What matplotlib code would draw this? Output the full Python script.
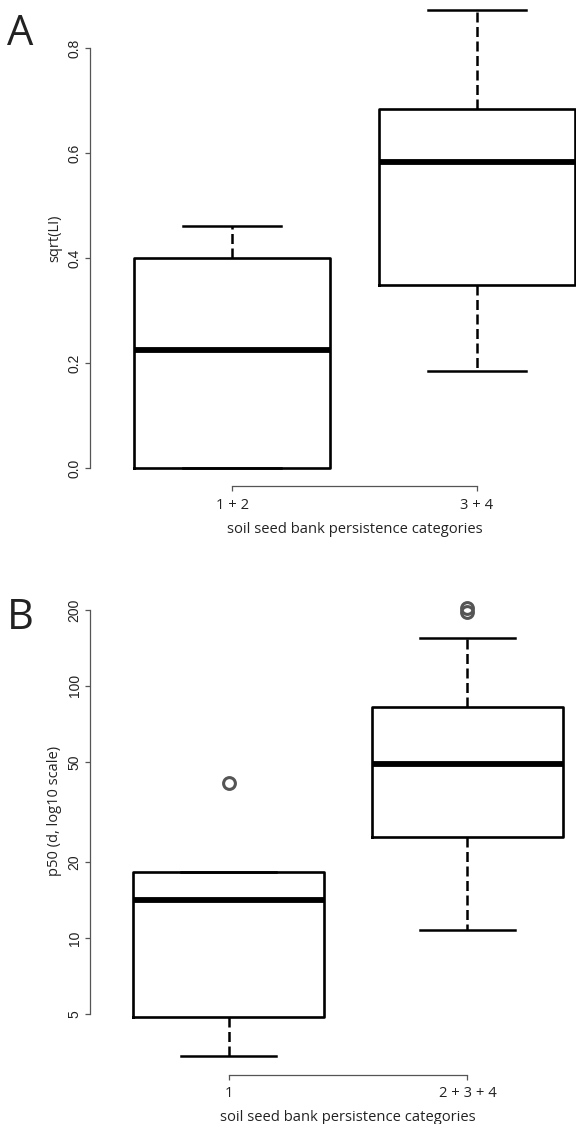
import matplotlib
matplotlib.use("Agg")
import matplotlib.pyplot as plt
from matplotlib.ticker import FixedLocator, NullLocator

# Panel A: sqrt(LI) by seed bank persistence
a_labels = ["1 + 2", "3 + 4"]
a_q1 = [0.0, 0.349]
a_med = [0.224, 0.583]
a_q3 = [0.401, 0.684]
a_lo = [0.0, 0.185]
a_hi = [0.462, 0.873]
a_fliers = [[], []]
a_ticks = [0.0, 0.2, 0.4, 0.6, 0.8]
a_ticklabels = ["0.0", "0.2", "0.4", "0.6", "0.8"]

# Panel B: p50 (days, log scale)
b_labels = ["1", "2 + 3 + 4"]
b_q1 = [4.85, 25.2]
b_med = [14.2, 49.0]
b_q3 = [18.3, 82.5]
b_lo = [3.4, 10.8]
b_hi = [18.3, 155.0]
b_fliers = [[41.3], [196.0, 204.0]]
b_ticks = [5, 10, 20, 50, 100, 200]
b_ticklabels = ["5", "10", "20", "50", "100", "200"]

xlabel = "soil seed bank persistence categories"

AXIS_GRAY = "#555555"
TEXT_COL = "#222222"
plt.rcParams["font.family"] = ["Open Sans", "DejaVu Sans"]


def make_stats(labels, q1, med, q3, lo, hi, fliers):
    stats = []
    for i in range(len(labels)):
        stats.append({"label": labels[i], "q1": q1[i], "med": med[i], "q3": q3[i],
                      "whislo": lo[i], "whishi": hi[i], "fliers": fliers[i]})
    return stats


def draw_panel(ax, stats, ticks, yticklabels, xticklabels, ylabel):
    ax.bxp(stats, positions=[1, 2], widths=0.8, showfliers=True,
           boxprops=dict(color="black", linewidth=1.9),
           medianprops=dict(color="black", linewidth=4.2, solid_capstyle="butt"),
           whiskerprops=dict(color="black", linewidth=1.8, linestyle=(0, (4, 1.8))),
           capprops=dict(color="black", linewidth=1.8),
           capwidths=0.4,
           flierprops=dict(marker="o", markersize=8.5, markerfacecolor="none",
                           markeredgecolor=AXIS_GRAY, markeredgewidth=2.2))
    for side in ("top", "right"):
        ax.spines[side].set_visible(False)
    for side in ("left", "bottom"):
        ax.spines[side].set_color(AXIS_GRAY)
        ax.spines[side].set_linewidth(0.9)
    ax.spines["bottom"].set_bounds(1, 2)
    ax.spines["left"].set_bounds(ticks[0], ticks[-1])
    ax.set_xticks([1, 2])
    ax.set_xticklabels(xticklabels, fontsize=10.6, color=TEXT_COL)
    ax.yaxis.set_major_locator(FixedLocator(ticks))
    ax.yaxis.set_minor_locator(NullLocator())
    ax.set_yticklabels(yticklabels, rotation=90, va="center",
                       fontsize=10, color=TEXT_COL, family="Liberation Sans")
    ax.tick_params(axis="both", direction="out", length=3.6, width=0.9,
                   color=AXIS_GRAY, pad=2.5)
    ax.tick_params(axis="x", pad=4.5)
    ax.set_xlabel(xlabel, fontsize=10.6, color=TEXT_COL, labelpad=7)
    ax.set_ylabel(ylabel, fontsize=10.5, color=TEXT_COL, labelpad=4)
    ax.patch.set_visible(False)


fig = plt.figure(figsize=(5.76, 11.24), dpi=100)

ax_a = fig.add_axes([90 / 576, 1 - 486.4 / 1124, 529 / 576, 495.4 / 1124])
draw_panel(ax_a, make_stats(a_labels, a_q1, a_med, a_q3, a_lo, a_hi, a_fliers),
           a_ticks, a_ticklabels, a_labels, "sqrt(LI)")
ax_a.set_xlim(0.42, 2.58)
ax_a.set_ylim(-0.035, 0.909)

ax_b = fig.add_axes([90 / 576, 1 - 1074.5 / 1124, 516 / 576, 483.9 / 1124])
ax_b.set_yscale("log")
draw_panel(ax_b, make_stats(b_labels, b_q1, b_med, b_q3, b_lo, b_hi, b_fliers),
           b_ticks, b_ticklabels, b_labels, "p50 (d, log10 scale)")
ax_b.set_xlim(0.42, 2.58)
ax_b.set_ylim(2.877, 238.8)
ax_b.yaxis.label.set_y(0.545)

fig.text(7 / 576, 1 - 45 / 1124, "A", fontsize=30, color=TEXT_COL, ha="left", va="baseline")
fig.text(7 / 576, 1 - 629 / 1124, "B", fontsize=30, color=TEXT_COL, ha="left", va="baseline")

fig.savefig("out.png", dpi=100)
